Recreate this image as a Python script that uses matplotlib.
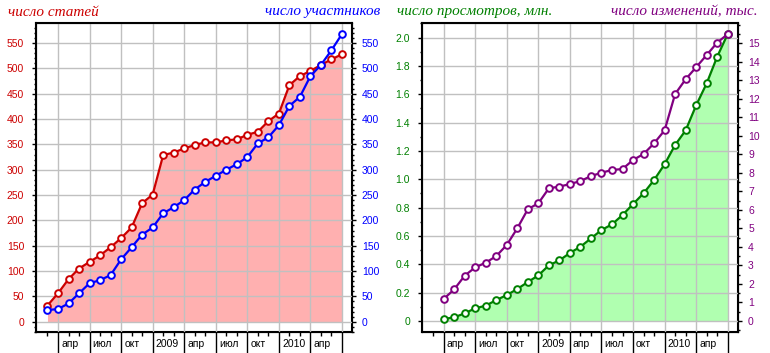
import matplotlib.pyplot as plt
from matplotlib.ticker import MultipleLocator, FixedLocator, FuncFormatter

# months counted from Jan 2008 = 0
months_left = list(range(2, 31))    # Mar 2008 .. Jul 2010
months_right = list(range(3, 31))   # Apr 2008 .. Jul 2010

articles = [32, 56, 84, 105, 118, 131, 147, 165, 186, 234,
            251, 329, 334, 342, 349, 354, 354, 358, 360, 369, 375, 396,
            411, 467, 485, 495, 507, 518, 528]
participants = [23, 25, 36, 56, 76, 82, 92, 123, 147, 172,
                186, 214, 226, 240, 261, 276, 288, 300, 311, 325, 352, 364,
                388, 426, 444, 485, 507, 536, 568]
views = [0.014, 0.026, 0.054, 0.09, 0.108, 0.148, 0.183, 0.226, 0.275,
         0.322, 0.393, 0.428, 0.48, 0.524, 0.583, 0.642, 0.682, 0.748, 0.825, 0.901, 0.995,
         1.106, 1.242, 1.345, 1.522, 1.677, 1.865, 2.025]
edits = [1.19, 1.71, 2.45, 2.90, 3.15, 3.51, 4.11, 5.01, 6.04,
         6.36, 7.17, 7.26, 7.40, 7.56, 7.83, 8.01, 8.16, 8.21, 8.70, 9.02, 9.60,
         10.3, 12.26, 13.06, 13.71, 14.37, 15.04, 15.5]

quarter_ticks = [3, 6, 9, 12, 15, 18, 21, 24, 27, 30]
quarter_labels = ['апр', 'июл', 'окт', '2009', 'апр', 'июл', 'окт', '2010', 'апр']

RED, BLUE = '#cc0000', '#0000ff'
GREEN, PURPLE = '#008000', '#800080'

plt.rcParams['font.family'] = ['Liberation Sans', 'DejaVu Sans']
plt.rcParams['font.size'] = 7.5

W, H = 770, 353
fig = plt.figure(figsize=(W / 100, H / 100), dpi=100)


def px_rect(x0, y0, x1, y1):
    return [x0 / W, 1 - y1 / H, (x1 - x0) / W, (y1 - y0) / H]


def style_axes(ax):
    ax.set_xlim(0.91, 30.95)
    ax.xaxis.set_major_locator(FixedLocator(quarter_ticks))
    ax.xaxis.set_minor_locator(FixedLocator(list(range(2, 31))))
    ax.set_xticklabels([])
    ax.tick_params(axis='x', which='major', length=16, width=1, direction='out')
    ax.tick_params(axis='x', which='minor', length=3, width=1, direction='out')
    for pos, lab in zip(quarter_ticks, quarter_labels):
        ax.annotate(lab, xy=(pos, 0), xycoords=('data', 'axes fraction'),
                    xytext=(2.2, -8.6), textcoords='offset points',
                    ha='left', va='center', fontsize=7.5)
    ax.grid(True, which='major', color='#c0c0c0', lw=1)
    ax.set_axisbelow(False)
    for s in ax.spines.values():
        s.set_linewidth(1.5)


def style_y(ax, color, major, minor, pad):
    ax.yaxis.set_major_locator(major)
    ax.yaxis.set_minor_locator(MultipleLocator(minor))
    ax.tick_params(axis='y', which='major', length=3, width=1, labelcolor=color, pad=pad)
    ax.tick_params(axis='y', which='minor', length=1.5, width=1)


line_kw = dict(lw=1.6, marker='o', ms=4.8, mfc='white', mew=1.4, zorder=3)

# left chart
ax1 = fig.add_axes(px_rect(36, 23, 352, 332))
style_axes(ax1)
ax1.set_ylim(-20.3, 589.7)
style_y(ax1, RED, MultipleLocator(50), 10, 5.5)
ax1.fill_between(months_left, articles, 0, color='#ffb0b0', lw=0, zorder=1)
ax1.plot(months_left, articles, color=RED, mec=RED, **line_kw)
t1 = ax1.twinx()
t1.set_ylim(-20.3, 589.7)
style_y(t1, BLUE, MultipleLocator(50), 10, 4)
t1.plot(months_left, participants, color=BLUE, mec=BLUE, **line_kw)

# right chart
ax2 = fig.add_axes(px_rect(421.7, 23, 737.7, 332))
style_axes(ax2)
ax2.set_ylim(-0.0776, 2.103)
style_y(ax2, GREEN, MultipleLocator(0.2), 0.1, 5.5)
ax2.yaxis.set_major_formatter(FuncFormatter(lambda v, p: '0' if abs(v) < 1e-9 else f'{v:.1f}'))
ax2.fill_between(months_right, views, 0, color='#b0ffb0', lw=0, zorder=1)
ax2.plot(months_right, views, color=GREEN, mec=GREEN, **line_kw)
t2 = ax2.twinx()
t2.set_ylim(-0.594, 16.1)
style_y(t2, PURPLE, FixedLocator(list(range(0, 16))), 0.5, 4.5)
t2.plot(months_right, edits, color=PURPLE, mec=PURPLE, **line_kw)

title_kw = dict(fontsize=11, style='italic', family=['Liberation Serif', 'DejaVu Serif'], va='center')
fig.text(8 / W, 1 - 12 / H, 'число статей', color=RED, ha='left', **title_kw)
fig.text(380 / W, 1 - 12 / H, 'число участников', color=BLUE, ha='right', **title_kw)
fig.text(397 / W, 1 - 12 / H, 'число просмотров, млн.', color=GREEN, ha='left', **title_kw)
fig.text(758 / W, 1 - 12 / H, 'число изменений, тыс.', color=PURPLE, ha='right', **title_kw)

fig.savefig('out.png', dpi=100)
